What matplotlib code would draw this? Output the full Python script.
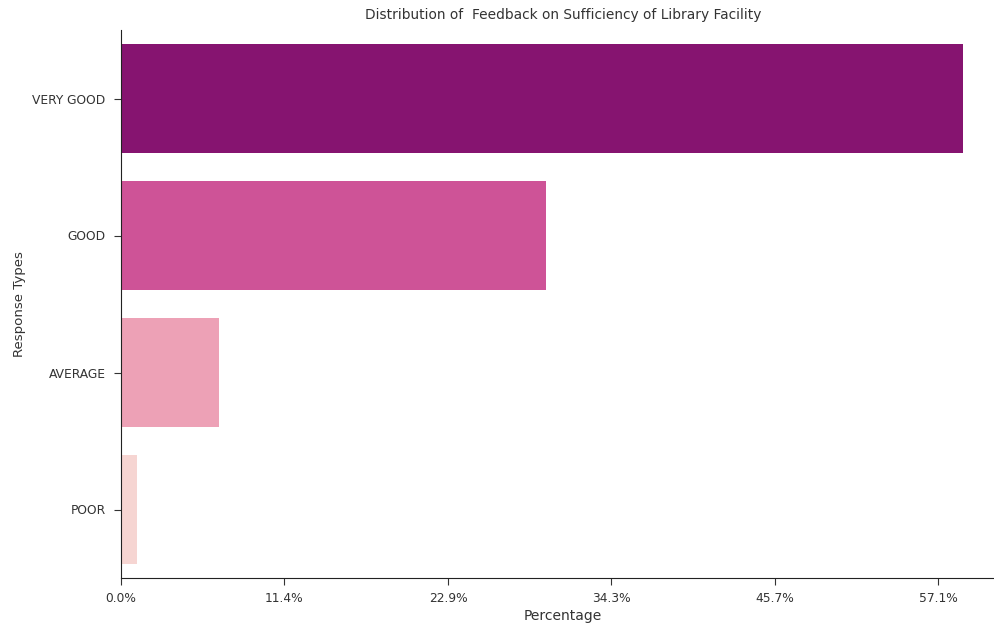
import matplotlib
matplotlib.use("Agg")
import matplotlib.pyplot as plt
import seaborn as sns
from matplotlib.ticker import FuncFormatter, MultipleLocator

categories = ["VERY GOOD", "GOOD", "AVERAGE", "POOR"]
counts = [103, 52, 12, 2]
total_responses = 175

text_color = "#333333"
fig = plt.figure(figsize=(9.95, 6.27), dpi=100)
ax = fig.add_axes([121 / 995, 1 - 578 / 627, (1005 - 121) / 995, (578 - 30) / 627])

palette = sns.color_palette("RdPu_r", 4)
sns.barplot(x=counts, y=categories, hue=categories, palette=palette,
            legend=False, orient="h", ax=ax, saturation=0.75)

ax.xaxis.set_major_locator(MultipleLocator(20))
ax.xaxis.set_major_formatter(FuncFormatter(lambda x, _: f"{x / total_responses * 100:.1f}%"))
ax.tick_params(labelsize=8.8, labelcolor=text_color, colors=text_color, length=5)
ax.tick_params(axis="y", pad=6)
ax.tick_params(axis="x", pad=5)
for s in ax.spines.values():
    s.set_color("#222222")
ax.set_xlabel("Percentage", fontsize=10, color=text_color, labelpad=3)
ax.set_ylabel("Response Types", fontsize=9.6, color=text_color, labelpad=5)
ax.set_title("Distribution of  Feedback on Sufficiency of Library Facility",
             fontsize=9.9, color=text_color, pad=8)
sns.despine(ax=ax)

fig.savefig("out.png", dpi=100)
